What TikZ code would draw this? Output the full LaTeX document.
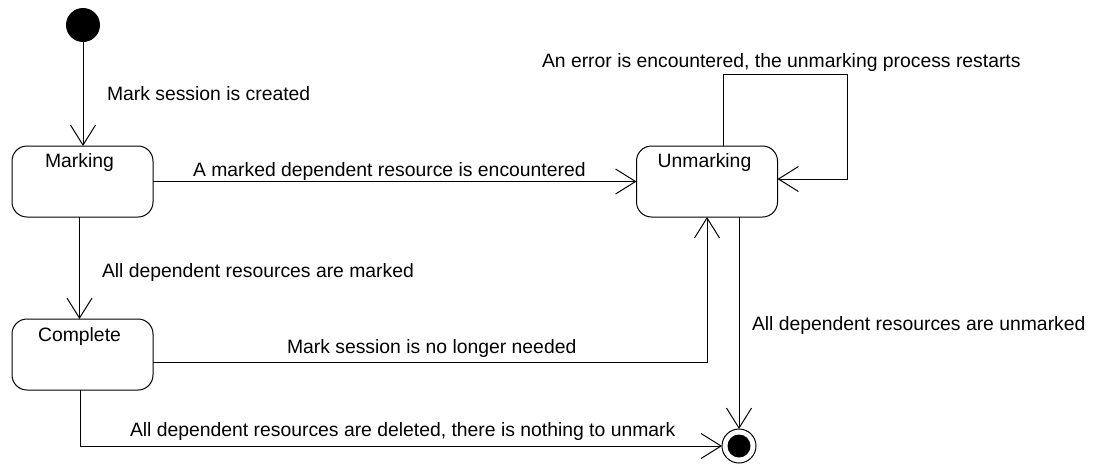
\documentclass[tikz,border=0pt]{standalone}
\usepackage{fontspec}
\setmainfont{Liberation Sans}
\usetikzlibrary{arrows.meta}
\begin{document}
\begin{tikzpicture}[x=1pt,y=-1pt,
  every node/.style={inner sep=0pt, outer sep=0pt},
  statebox/.style={draw, line width=1pt, rounded corners=15pt,
    minimum width=141pt, minimum height=71pt},
  statename/.style={anchor=base, font=\fontsize{19.35}{22}\selectfont},
  trlabel/.style={anchor=base west, font=\fontsize{19.35}{22}\selectfont},
  tr/.style={draw, line width=1pt, -{Straight Barb[length=20pt,width=25pt,line width=1pt]}},
  initstate/.style={circle, fill=black, minimum size=34pt},
  finalring/.style={circle, draw, line width=1pt, minimum size=34pt},
  finaldot/.style={circle, fill=black, minimum size=23pt}]
\useasboundingbox (0,0) rectangle (1093,464);

% states
\node[initstate] (init) at (83,25) {};
\node[statebox] (mk) at (82.5,181.5) {};
\node[statename] (mk-name) at ([xshift=-3pt,yshift=-21pt]mk.north) {Marking};
\node[statebox] (cp) at (82.5,354.5) {};
\node[statename] (cp-name) at ([xshift=-3pt,yshift=-22pt]cp.north) {Complete};
\node[statebox] (um) at (707,181.5) {};
\node[statename] (um-name) at ([xshift=-2.5pt,yshift=-21pt]um.north) {Unmarking};
\node[finalring] (fin) at (739,446) {};
\node[finaldot] (fin-dot) at (fin) {};

% transitions
\draw[tr] (init) -- (mk.north -| init);
\draw[tr] (mk.east) -- (um.west);
\draw[tr] ([xshift=-3pt]mk.south) -- ([xshift=-3pt]cp.north);
\draw[tr] ([yshift=-7.5pt]cp.east) -| (um.south);
\draw[tr] (um.south -| fin.north) -- (fin.north);
\draw[tr] ([xshift=-2.5pt]cp.south) |- (fin.west);
\coordinate (loop) at (847,74);
\draw[tr] ([xshift=16pt]um.north) |- (loop) |- ([yshift=2.5pt]um.east);

% transition labels
\node[trlabel] (l-created) at (107,100) {Mark session is created};
\node[trlabel] (l-encountered) at (193,176) {A marked dependent resource is encountered};
\node[trlabel] (l-error) at (542,67) {An error is encountered, the unmarking process restarts};
\node[trlabel] (l-marked) at (102,277) {All dependent resources are marked};
\node[trlabel] (l-needed) at (287,353) {Mark session is no longer needed};
\node[trlabel] (l-unmarked) at (752,330) {All dependent resources are unmarked};
\node[trlabel] (l-deleted) at (130,436) {All dependent resources are deleted, there is nothing to unmark};
\end{tikzpicture}
\end{document}
